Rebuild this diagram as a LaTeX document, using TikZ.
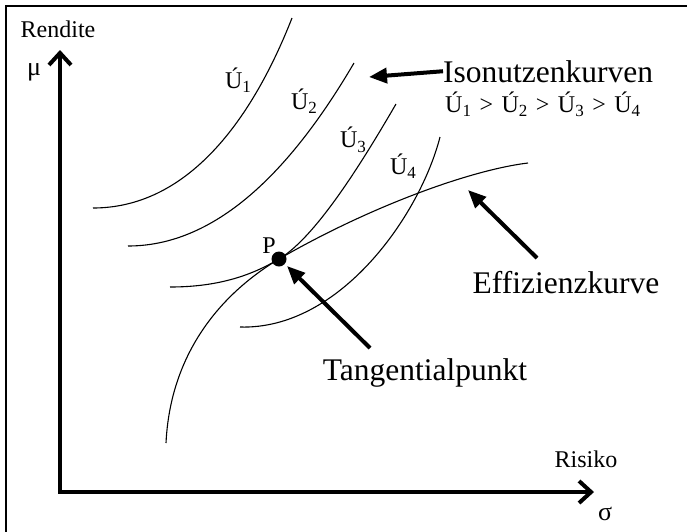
\documentclass[tikz,border=0pt]{standalone}
\usepackage{fontspec}
\setmainfont{Liberation Serif}
\usetikzlibrary{arrows.meta}
\newcommand{\usub}[1]{\raisebox{-4.5pt}{\fontsize{17}{19}\selectfont #1}}
\newcommand{\gtsep}{\hspace{2.5pt} > \hspace{2.5pt}}
\begin{document}
\begin{tikzpicture}[x=1pt,y=-1pt,
  big/.style={font=\fontsize{31.5}{36}\selectfont, inner sep=0pt},
  small/.style={font=\fontsize{24}{28}\selectfont, inner sep=0pt},
  curve/.style={line width=1.1pt, line join=round},
  axisline/.style={line width=4pt, line join=miter,
     {Straight Barb[length=12pt,width=22pt]}-{Straight Barb[length=12pt,width=22pt]}},
  pointer/.style={line width=4pt, -{Triangle[length=18pt,width=15pt]}},
  dotstyle/.style={circle, fill=black, minimum size=15pt, inner sep=0pt}]
\useasboundingbox (0,0) rectangle (687,531);
% frame
\draw[line width=2pt] (6,540) -- (6,6) -- (700,6);
% axes
\coordinate (ytip) at (60,50);
\coordinate (origin) at (60,492);
\coordinate (xtip) at (594,492);
\draw[axisline] (ytip) -- (origin) -- (xtip);
\node[small, font=\fontsize{26}{30}\selectfont] (mu) at (34,72) {μ};
\node[small] (rendite) at (58,29) {Rendite};
\node[small, anchor=base] (risiko) at (586,467) {Risiko};
\node[small, font=\fontsize{26}{30}\selectfont, anchor=base] (sigma) at (605,520) {σ};
% indifference curves
\coordinate (p0) at (279,259);
\draw[curve] (93,208) .. controls (185,208) and (250,125) .. (292,18);
\draw[curve] (128,246) .. controls (225,246) and (300,155) .. (354,63);
\draw[curve] (170,287) .. controls (215,287) and (249,277) .. (p0)
             .. controls (318,236) and (368,152) .. (396,104);
\draw[curve] (240,327) .. controls (340,330) and (420,215) .. (440,137);
% efficiency curve
\draw[curve] (166,443) .. controls (170,360) and (214,298) .. (p0)
             .. controls (369,207) and (470,170) .. (528,163);
% labels of curves
\node[small] (u1) at (238,80) {Ú\usub{1}};
\node[small] (u2) at (304,101) {Ú\usub{2}};
\node[small] (u3) at (353,140) {Ú\usub{3}};
\node[small] (u4) at (403,166) {Ú\usub{4}};
% point P
\node[dotstyle] (p) at (p0) {};
\node[small] (plabel) at (269,246) {P};
% texts
\node[big, anchor=base west] (iso) at (443,82) {Isonutzenkurven};
\node[small, anchor=base west] (order) at (445,112) {Ú\usub{1}\gtsep Ú\usub{2}\gtsep Ú\usub{3}\gtsep Ú\usub{4}};
\node[big, anchor=base] (eff) at (566,293) {Effizienzkurve};
\node[big, anchor=base] (tang) at (425,380) {Tangentialpunkt};
% pointer arrows
\coordinate (isotip) at (369,77);
\coordinate (efftail) at (537,258);
\coordinate (efftip) at (468,190);
\coordinate (tangtail) at (370,348);
\coordinate (tangtip) at (287,266);
\draw[pointer] (iso.west) -- (isotip);
\draw[pointer] (efftail) -- (efftip);
\draw[pointer] (tangtail) -- (tangtip);
\end{tikzpicture}
\end{document}
